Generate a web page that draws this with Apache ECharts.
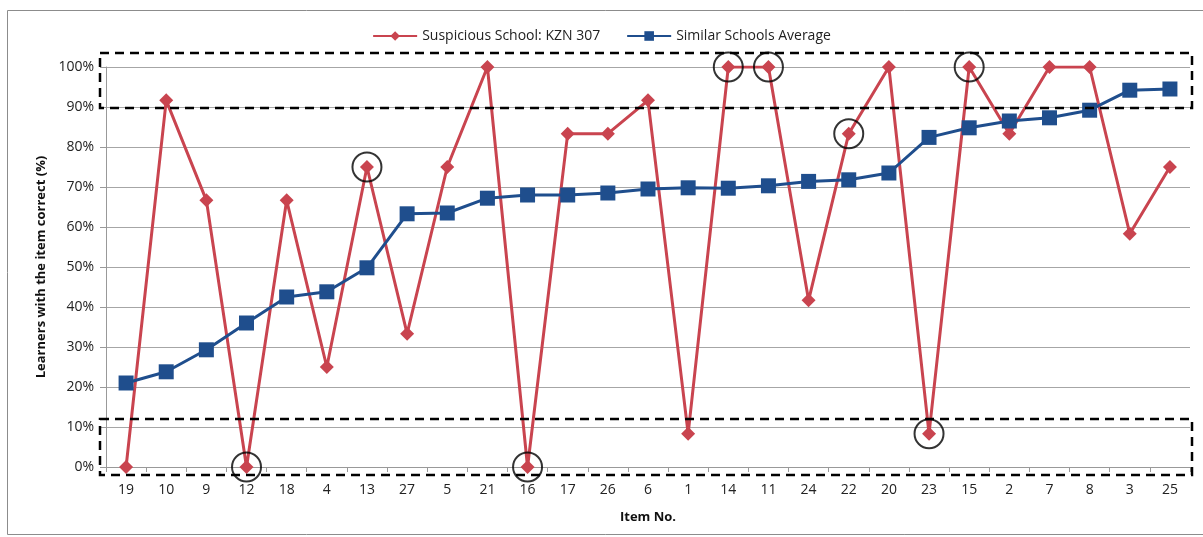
<!DOCTYPE html>
<html>
<head>
<meta charset="utf-8">
<script src="https://cdn.jsdelivr.net/npm/echarts@6/dist/echarts.min.js"></script>
<style>
  html, body { margin: 0; padding: 0; background: #fff; }
  #chart { width: 1203px; height: 537px; }
</style>
</head>
<body>
<div id="chart"></div>
<script>
const items = ["19", "10", "9", "12", "18", "4", "13", "27", "5", "21", "16", "17", "26", "6",
  "1", "14", "11", "24", "22", "20", "23", "15", "2", "7", "8", "3", "25"];

const suspicious = [0, 91.67, 66.67, 0, 66.67, 25, 75, 33.33, 75, 100, 0, 83.33, 83.33, 91.67,
  8.33, 100, 100, 41.67, 83.33, 100, 8.33, 100, 83.33, 100, 100, 58.33, 75];

const similarAvg = [21, 23.8, 29.3, 36, 42.5, 43.8, 49.8, 63.3, 63.5, 67.2, 68, 68, 68.5, 69.5,
  69.8, 69.7, 70.3, 71.4, 71.8, 73.5, 82.4, 84.8, 86.5, 87.3, 89.2, 94.2, 94.5];

// items circled in the original
const circled = ["12", "13", "16", "14", "11", "22", "23", "15"];

// dashed boxes (value ranges on the y axis)
const boxTop = [89.75, 103.5];
const boxBottom = [-2, 12];

const RED = "#C9444F";
const BLUE = "#1F4E8D";

const chart = echarts.init(document.getElementById("chart"));

const gridLeft = 106, gridRight = 13, gridTop = 67, gridBottom = 70;

chart.setOption({
  animation: false,
  backgroundColor: "#fff",
  textStyle: { fontFamily: "Open Sans, DejaVu Sans, sans-serif" },
  legend: {
    top: 24,
    left: "center",
    itemGap: 26,
    itemWidth: 44,
    itemHeight: 12,
    textStyle: { color: "#222", fontSize: 14 },
    data: ["Suspicious School: KZN 307", "Similar Schools Average"],
  },
  grid: { left: gridLeft, right: gridRight, top: gridTop, bottom: gridBottom },
  xAxis: {
    type: "category",
    data: items,
    boundaryGap: true,
    name: "Item No.",
    nameLocation: "middle",
    nameGap: 44,
    nameTextStyle: { fontWeight: "bold", fontSize: 13, color: "#111" },
    axisLine: { lineStyle: { color: "#999" } },
    axisTick: { show: true, length: 5, lineStyle: { color: "#999" } },
    axisLabel: { color: "#222", fontSize: 14, margin: 16 },
  },
  yAxis: {
    type: "value",
    min: 0,
    max: 100,
    interval: 10,
    name: "Learners with the item correct (%)",
    nameLocation: "middle",
    nameGap: 57,
    nameTextStyle: { fontWeight: "bold", fontSize: 13, color: "#111" },
    axisLine: { show: true, lineStyle: { color: "#999" } },
    axisTick: { show: true, length: 6, lineStyle: { color: "#999" } },
    axisLabel: { color: "#222", fontSize: 14, margin: 12, formatter: (v) => v + "%" },
    splitLine: { lineStyle: { color: "#A6A6A6" } },
  },
  series: [
    {
      name: "Suspicious School: KZN 307",
      type: "line",
      data: suspicious,
      symbol: "diamond",
      symbolSize: 14,
      color: RED,
      lineStyle: { width: 3, color: RED },
      z: 3,
    },
    {
      name: "Similar Schools Average",
      type: "line",
      data: similarAvg,
      symbol: "rect",
      symbolSize: 15,
      color: BLUE,
      lineStyle: { width: 3, color: BLUE },
      z: 4,
    },
    {
      name: "circles",
      type: "scatter",
      data: circled.map((c) => [c, suspicious[items.indexOf(c)]]),
      symbol: "circle",
      symbolSize: 29,
      itemStyle: { color: "rgba(0,0,0,0)", borderColor: "#000", borderWidth: 2 },
      z: 5,
      silent: true,
    },
  ],
});

// dashed boxes + outer frame
const yTopA = chart.convertToPixel({ yAxisIndex: 0 }, boxTop[1]);
const yTopB = chart.convertToPixel({ yAxisIndex: 0 }, boxTop[0]);
const yBotA = chart.convertToPixel({ yAxisIndex: 0 }, boxBottom[1]);
const yBotB = chart.convertToPixel({ yAxisIndex: 0 }, boxBottom[0]);
const boxX = gridLeft - 6;
const boxW = chart.getWidth() - gridRight - boxX + 2;
const dashed = { stroke: "#000", lineWidth: 2.5, lineDash: [9, 6], fill: null };

chart.setOption({
  graphic: [
    { type: "rect", shape: { x: 7.5, y: 10.5, width: 1220, height: 524 }, style: { stroke: "#8C8C8C", fill: null, lineWidth: 1 }, silent: true },
    { type: "rect", shape: { x: boxX, y: yTopA, width: boxW, height: yTopB - yTopA }, style: dashed, silent: true, z: 10 },
    { type: "rect", shape: { x: boxX, y: yBotA, width: boxW, height: yBotB - yBotA }, style: dashed, silent: true, z: 10 },
  ],
});
</script>
</body>
</html>
